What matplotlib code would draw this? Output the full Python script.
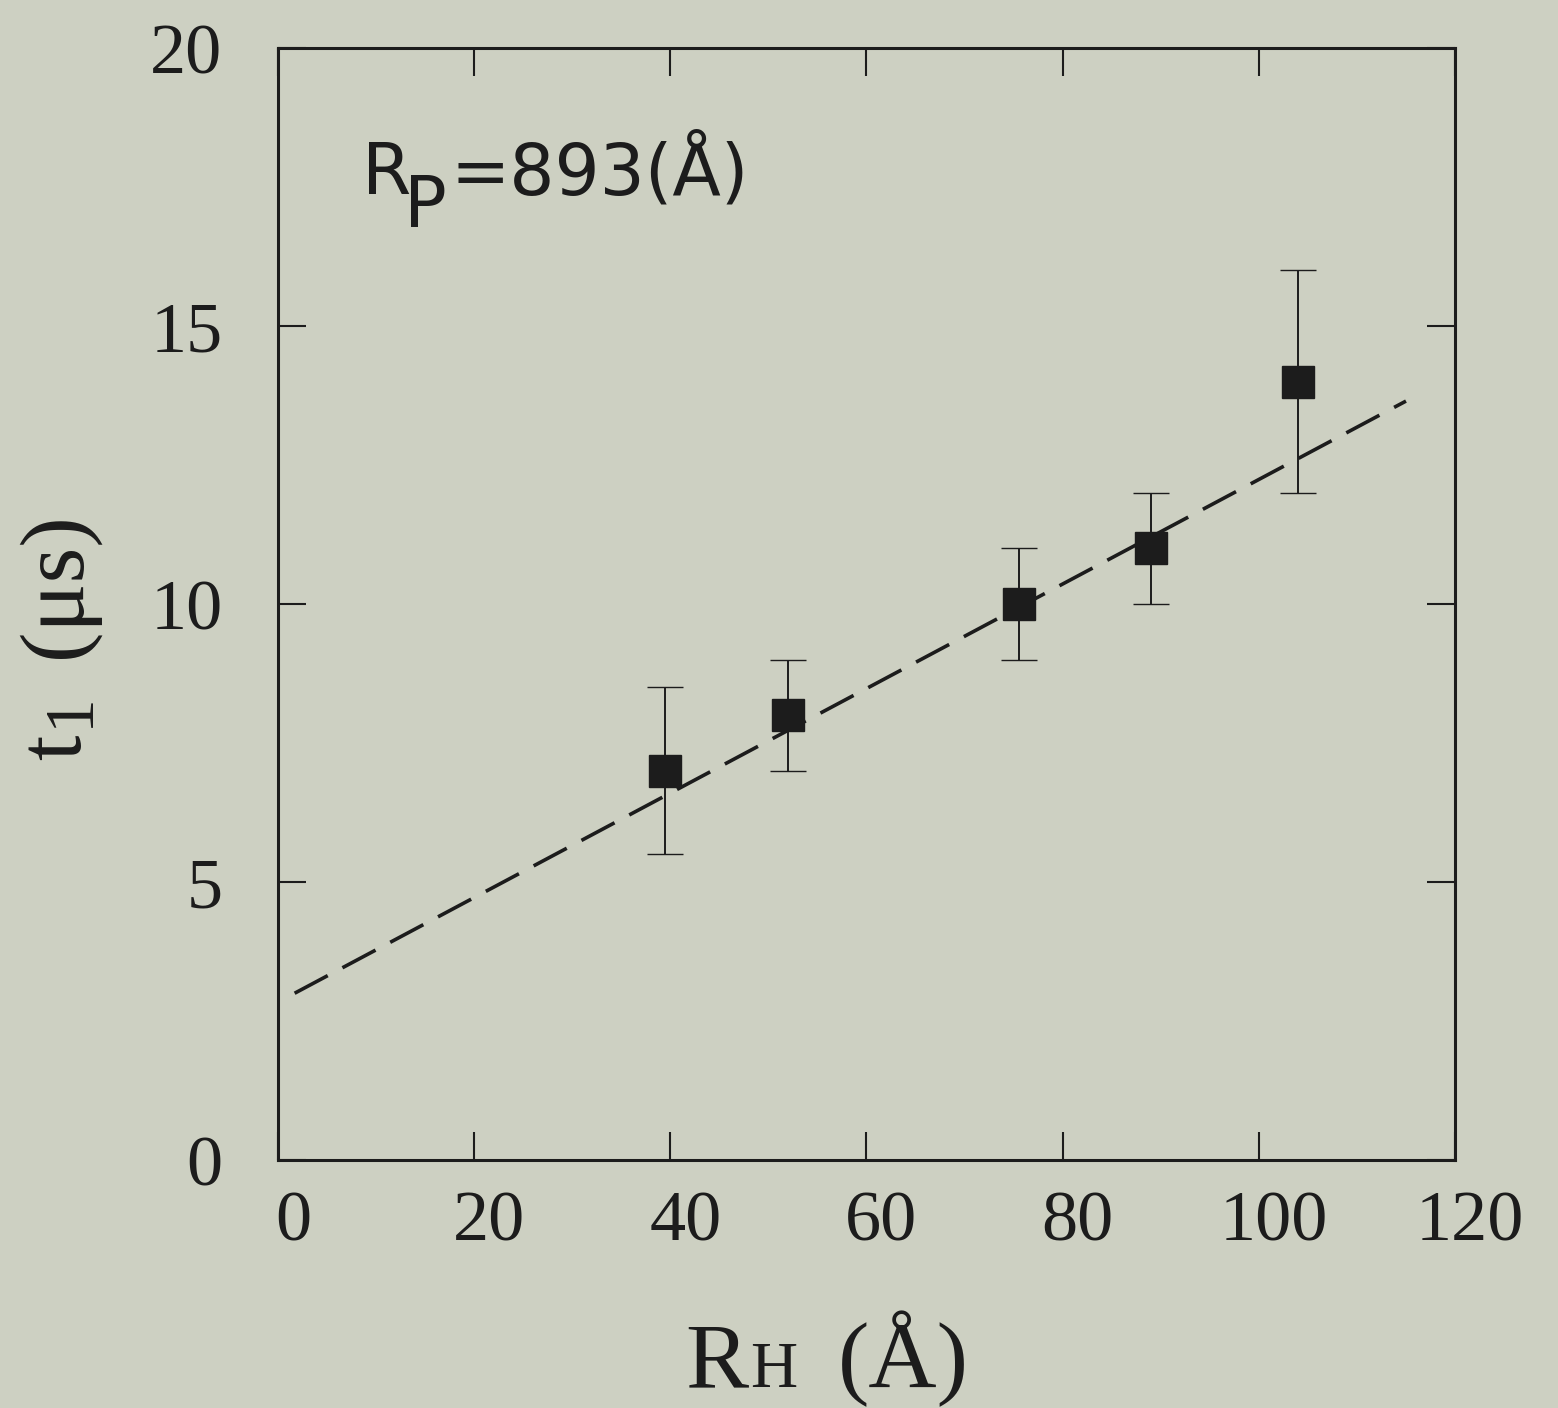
import matplotlib
matplotlib.use("Agg")
import matplotlib.pyplot as plt
from matplotlib.transforms import IdentityTransform, ScaledTranslation

# values
r_h = [39.5, 52.0, 75.5, 89.0, 104.0]      # hydrodynamic radius (A)
t1 = [7.0, 8.0, 10.0, 11.0, 14.0]          # t1 (us)
t1_err = [1.5, 1.0, 1.0, 1.0, 2.0]
fit_x = [1.7, 115.0]                       # dashed linear fit, end points
fit_y = [3.0, 13.65]

x_ticks = [0, 20, 40, 60, 80, 100, 120]
y_ticks = [0, 5, 10, 15, 20]

bg = "#cdd0c2"
ink = "#1c1c1c"
serif = "Liberation Serif"
sans = "DejaVu Sans"

plt.rcParams["lines.scale_dashes"] = False

fig = plt.figure(figsize=(15.58, 14.08), dpi=100, facecolor=bg)
ax = fig.add_axes([0.1784, 0.1761, 0.7555, 0.7898])
ax.set_facecolor(bg)

# fit line
ax.plot(fit_x, fit_y, color=ink, lw=2.6, dashes=(27, 12), zorder=2)

# data with error bars
ax.errorbar(r_h, t1, yerr=t1_err, fmt="s", color=ink, ms=23, mew=1,
            elinewidth=1.4, capsize=13, capthick=1.6, zorder=3)

ax.set_xlim(0, 119)
ax.set_ylim(0, 20)
ax.set_xticks(x_ticks)
ax.set_yticks(y_ticks)
ax.tick_params(which="both", direction="in", length=20, width=1.5, color=ink,
               top=True, right=True, labelsize=52, labelcolor=ink)
ax.tick_params(axis="x", pad=22)
ax.tick_params(axis="y", pad=40)
for lab in ax.get_xticklabels() + ax.get_yticklabels():
    lab.set_family(serif)
# the x labels sit a little to the right of their ticks in the original
for lab in ax.get_xticklabels():
    lab.set_transform(lab.get_transform() + ScaledTranslation(0.15, 0, fig.dpi_scale_trans))

for sp in ax.spines.values():
    sp.set_linewidth(2.2)
    sp.set_color(ink)

px = IdentityTransform()


def piece(x, y, s, family, size, rot=0):
    fig.text(x, y, s, transform=px, family=family, fontsize=size, color=ink,
             ha="left", va="baseline", rotation=rot, rotation_mode="anchor")


# annotation R_P = 893 (A)
piece(362, 1214, "R", sans, 51)
piece(404, 1181, "P", sans, 51)
piece(450, 1214, "=893(Å)", sans, 51)

# x label: R_H (A)
piece(685, 21, "R", serif, 68)
piece(750, 21, "H", serif, 47)
piece(838, 21, "(Å)", serif, 68)

# y label: t1 (us), rotated
piece(80, 648, "t", serif, 66, rot=90)
piece(88, 681, "1", serif, 50, rot=90)
piece(80, 750, "(μs)", serif, 66, rot=90)

fig.savefig("out.png", dpi=100, facecolor=bg)
